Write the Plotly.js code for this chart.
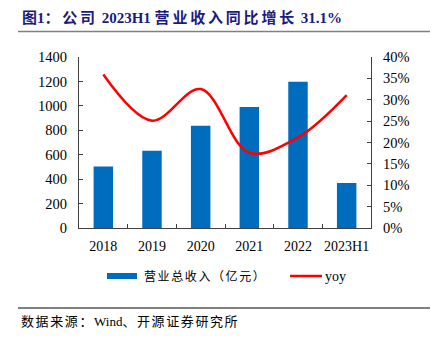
<!DOCTYPE html>
<html>
<head>
<meta charset="utf-8">
<script src="https://cdn.plot.ly/plotly-3.0.1.min.js"></script>
<style>
html,body{margin:0;padding:0;background:#fff;}
#chart{width:436px;height:341px;}
</style>
</head>
<body>
<div id="chart"></div>
<script>
const categories = ['2018', '2019', '2020', '2021', '2022', '2023H1'];
const revenue = [504, 633, 838, 991, 1198, 368];
const yoy = [0.359, 0.251, 0.325, 0.176, 0.212, 0.311];
const revenueName = '营业总收入（亿元）';
const yoyName = 'yoy';

const serif = 'Liberation Serif, "Times New Roman", "Noto Sans CJK SC", serif';
const cjk = '"Liberation Serif", "Noto Sans CJK SC", sans-serif';

const W = 436, H = 341, L = 79, R = 65, T = 57, B = 113;
const pw = W - L - R, ph = H - T - B;
const px = x => (x - L) / pw;
const py = y => (H - B - y) / ph;
const sp = (s, n) => '<span style="letter-spacing:' + n + 'px">' + s + '</span>';

const traces = [
  {type: 'bar', x: categories, y: revenue, name: revenueName,
   marker: {color: '#006CBE'}, showlegend: false, yaxis: 'y'},
  {type: 'scatter', mode: 'lines', x: categories, y: yoy, name: yoyName,
   line: {color: '#FF0000', width: 2.5, shape: 'spline', smoothing: 1},
   showlegend: false, yaxis: 'y2'}
];

const tf = {family: serif, size: 14.5, color: '#000'};

const layout = {
  width: W, height: H,
  margin: {l: L, r: R, t: T, b: B, pad: 0},
  paper_bgcolor: '#fff', plot_bgcolor: '#fff',
  bargap: 0.6,
  font: {family: serif, size: 14, color: '#000'},
  xaxis: {type: 'category', showline: true, linecolor: '#404040', linewidth: 1,
          ticks: 'inside', tickson: 'boundaries', ticklen: 4, tickcolor: '#404040',
          showgrid: false, zeroline: false, ticklabelstandoff: 5, tickangle: 0,
          tickfont: {family: serif, size: 14, color: '#000'}},
  yaxis: {range: [0, 1400], dtick: 200, showline: true, linecolor: '#404040', linewidth: 1,
          ticks: 'inside', ticklen: 4, tickcolor: '#404040', showgrid: false, zeroline: false,
          ticklabelstandoff: 8, tickfont: tf},
  yaxis2: {range: [0, 0.4], dtick: 0.05, tickformat: '.0%', overlaying: 'y', side: 'right',
           showline: true, linecolor: '#404040', linewidth: 1, ticks: 'inside', ticklen: 4,
           tickcolor: '#404040', showgrid: false, zeroline: false, ticklabelstandoff: 8,
           tickfont: tf},
  shapes: [
    {type: 'line', xref: 'paper', yref: 'paper', x0: px(18), x1: px(430), y0: py(31.5), y1: py(31.5),
     line: {color: '#808080', width: 1.5}},
    {type: 'line', xref: 'paper', yref: 'paper', x0: px(18), x1: px(430), y0: py(308), y1: py(308),
     line: {color: '#000', width: 1}},
    {type: 'rect', xref: 'paper', yref: 'paper', x0: px(107), x1: px(137), y0: py(279), y1: py(273),
     fillcolor: '#006CBE', line: {width: 0}},
    {type: 'line', xref: 'paper', yref: 'paper', x0: px(290), x1: px(322), y0: py(276), y1: py(276),
     line: {color: '#FF0000', width: 2.5}}
  ],
  annotations: [
    {text: '<b>' + sp('图', 0) + '1' + sp('：公司', 2.8) + ' 2023H1 ' + sp('营业收入同比增长', 2.8) + ' 31.1%</b>',
     xref: 'paper', yref: 'paper', align: 'left',
     x: px(20), y: py(17), xanchor: 'left', yanchor: 'middle', showarrow: false,
     font: {family: cjk, size: 15, color: '#1B1B7E'}},
    {text: sp(revenueName, 1.6), xref: 'paper', yref: 'paper', x: px(142), y: py(276), align: 'left',
     xanchor: 'left', yanchor: 'middle', showarrow: false,
     font: {family: cjk, size: 12, color: '#000'}},
    {text: yoyName, xref: 'paper', yref: 'paper', x: px(323), y: py(276),
     xanchor: 'left', yanchor: 'middle', showarrow: false,
     font: {family: serif, size: 14, color: '#000'}},
    {text: sp('数据来源：', 1.6) + 'Wind' + sp('、开源证券研究所', 1.6), xref: 'paper', yref: 'paper',
     x: px(19), y: py(321), align: 'left',
     xanchor: 'left', yanchor: 'middle', showarrow: false,
     font: {family: cjk, size: 13, color: '#000'}}
  ]
};

Plotly.newPlot('chart', traces, layout, {displayModeBar: false, staticPlot: true});
</script>
</body>
</html>
